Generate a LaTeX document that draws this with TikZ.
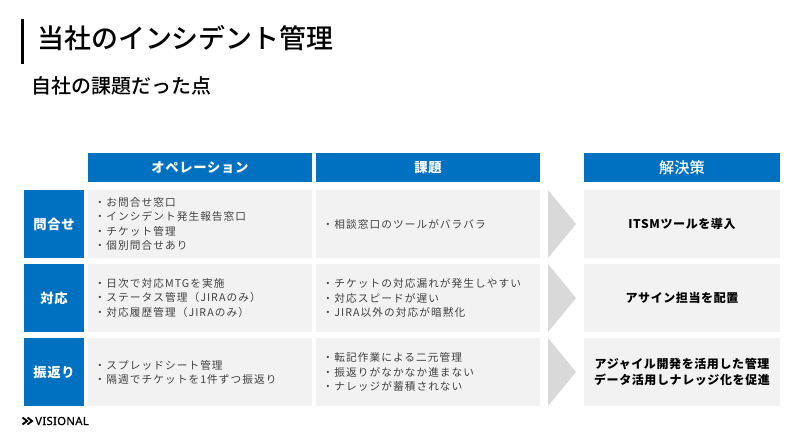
\documentclass[tikz,border=0pt]{standalone}
\usepackage{fontspec}
\setmainfont{Noto Sans CJK JP}
\newfontfamily\medjp{Noto Sans CJK JP Medium}
\newfontfamily\bodyjp[LetterSpace=10]{Noto Sans CJK JP}
\newfontfamily\headjp[LetterSpace=5]{Noto Sans CJK JP}
\newfontfamily\logofont[LetterSpace=3.5,FakeBold=0.8]{Noto Sans}
\definecolor{visblue}{HTML}{0070C0}
\definecolor{cellgrey}{HTML}{F2F2F2}
\definecolor{arrowgrey}{HTML}{D9D9D9}
\definecolor{bodygrey}{HTML}{404040}
\tikzset{
  headbox/.style={fill=visblue,text=white,minimum height=21.75pt,inner sep=0pt,font=\headjp\bfseries\fontsize{10}{12}\selectfont},
  rowbox/.style={fill=visblue,text=white,minimum width=45pt,minimum height=51pt,inner sep=0pt,font=\headjp\bfseries\fontsize{10}{12}\selectfont},
  cellbox/.style={fill=cellgrey,text=bodygrey,minimum width=168pt,minimum height=51pt,inner sep=0pt,text width=158pt,align=left,font=\bodyjp\fontsize{8}{10.6}\selectfont},
  solvebox/.style={fill=cellgrey,text=black,minimum width=147pt,minimum height=51pt,inner sep=0pt,align=center,font=\headjp\bfseries\fontsize{9}{12.4}\selectfont},
  chevron/.style={fill=arrowgrey,draw=none},
}
\begin{document}
\begin{tikzpicture}[x=.75pt,y=-.75pt]
        \useasboundingbox (0,0) rectangle (800,442);

        \fill[black] (21,19) rectangle (24,64);
        \node[anchor=west,inner sep=0pt,font=\medjp\fontsize{20.2}{24}\selectfont] (title) at (37,38) {当社のインシデント管理};
        \node[anchor=west,inner sep=0pt,font=\medjp\fontsize{15}{18}\selectfont] (subtitle) at (31,86) {自社の課題だった点};

        \node[headbox,minimum width=168pt] (headOpe) at (200,167.5) {オペレーション};
        \node[headbox,minimum width=168pt] (headIssue) at (428,167.5) {課題};
        \node[headbox,minimum width=147pt,font=\medjp\fontsize{11.4}{13}\selectfont] (headSolve) at (682,167.5) {解決策};

        \node[rowbox] (rowAsk) at (54,224) {問合せ};
        \node[rowbox] (rowAct) at (54,298) {対応};
        \node[rowbox] (rowBack) at (54,372) {振返り};

        \node[cellbox] (opeAsk) at (200,224) {・お問合せ窓口\\・インシデント発生報告窓口\\・チケット管理\\・個別問合せあり};
        \node[cellbox] (opeAct) at (200,298) {・日次で対応MTGを実施\\・ステータス管理（JIRAのみ）\\・対応履歴管理（JIRAのみ）};
        \node[cellbox] (opeBack) at (200,372) {・スプレッドシート管理\\・隔週でチケットを1件ずつ振返り};

        \node[cellbox] (issueAsk) at (428,224) {・相談窓口のツールがバラバラ};
        \node[cellbox] (issueAct) at (428,298) {・チケットの対応漏れが発生しやすい\\・対応スピードが遅い\\・JIRA以外の対応が暗黙化};
        \node[cellbox] (issueBack) at (428,372) {・転記作業による二元管理\\・振返りがなかなか進まない\\・ナレッジが蓄積されない};

        \fill[chevron] (548,190) -- (576,224) -- (548,258) -- cycle;
        \fill[chevron] (548,264) -- (576,298) -- (548,332) -- cycle;
        \fill[chevron] (548,338) -- (576,372) -- (548,406) -- cycle;

        \node[solvebox] (solveAsk) at (682,224) {ITSMツールを導入};
        \node[solvebox] (solveAct) at (682,298) {アサイン担当を配置};
        \node[solvebox] (solveBack) at (682,372) {アジャイル開発を活用した管理\\データ活用しナレッジ化を促進};

        \draw[line width=1.4pt] (22.5,417.5) -- (27,421) -- (22.5,424.5);
        \draw[line width=1.4pt] (27.5,417.5) -- (32,421) -- (27.5,424.5);
        \node[anchor=west,inner sep=0pt,font=\logofont\fontsize{8.4}{10}\selectfont] (logo) at (35,421) {VISIONAL};
\end{tikzpicture}
\end{document}
